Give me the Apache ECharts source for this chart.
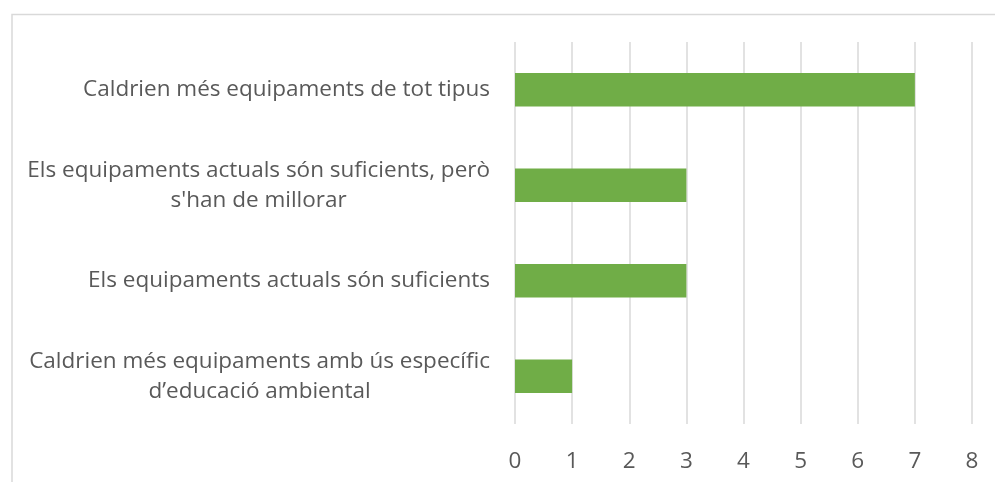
<!DOCTYPE html>
<html>
<head>
<meta charset="utf-8">
<script src="https://cdn.jsdelivr.net/npm/echarts@6/dist/echarts.min.js"></script>
<style>
html,body{margin:0;padding:0;background:#fff;}
#c{width:995px;height:482px;}
</style>
</head>
<body>
<div id="c"></div>
<script>
// Categories listed bottom-to-top (ECharts category axis order for horizontal bars)
const categories = [
  "Caldrien més equipaments amb ús específic\nd’educació ambiental",
  "Els equipaments actuals són suficients",
  "Els equipaments actuals són suficients, però\ns'han de millorar",
  "Caldrien més equipaments de tot tipus"
];
const values = [1, 3, 3, 7];
const xTicks = [0, 1, 2, 3, 4, 5, 6, 7, 8];

const FONT = '"Open Sans", "Noto Sans", sans-serif';
const FS = 22.5;
const chart = echarts.init(document.getElementById('c'), null, {renderer: 'canvas'});
chart.setOption({
  animation: false,
  backgroundColor: '#ffffff',
  graphic: [{
    type: 'rect',
    left: 9.5, top: 12,
    shape: {width: 1000, height: 500},
    style: {fill: 'none', stroke: '#d9d9d9', lineWidth: 1.5},
    silent: true
  }],
  grid: {left: 515, right: 23, top: 42, bottom: 58, containLabel: false},
  xAxis: {
    type: 'value',
    min: xTicks[0],
    max: xTicks[xTicks.length - 1],
    interval: 1,
    axisLine: {show: false},
    axisTick: {show: false},
    splitLine: {show: true, lineStyle: {color: '#d9d9d9', width: 1.5}},
    axisLabel: {color: '#595959', fontSize: FS, fontFamily: FONT, margin: 26}
  },
  yAxis: {
    type: 'category',
    data: categories,
    axisLine: {show: false},
    axisTick: {show: false},
    splitLine: {show: false},
    axisLabel: {
      margin: 25,
      color: '#595959',
      fontSize: FS,
      fontFamily: FONT,
      lineHeight: 30,
      formatter: function (v) {
        return v.split('\n').map(function (l) { return '{c|' + l + '}'; }).join('\n');
      },
      rich: {
        c: {align: 'center', color: '#595959', fontSize: FS, fontFamily: FONT, lineHeight: 30}
      }
    }
  },
  series: [{
    type: 'bar',
    data: values,
    barCategoryGap: '65%',
    itemStyle: {color: '#70ad47'},
    silent: true
  }]
});
</script>
</body>
</html>
